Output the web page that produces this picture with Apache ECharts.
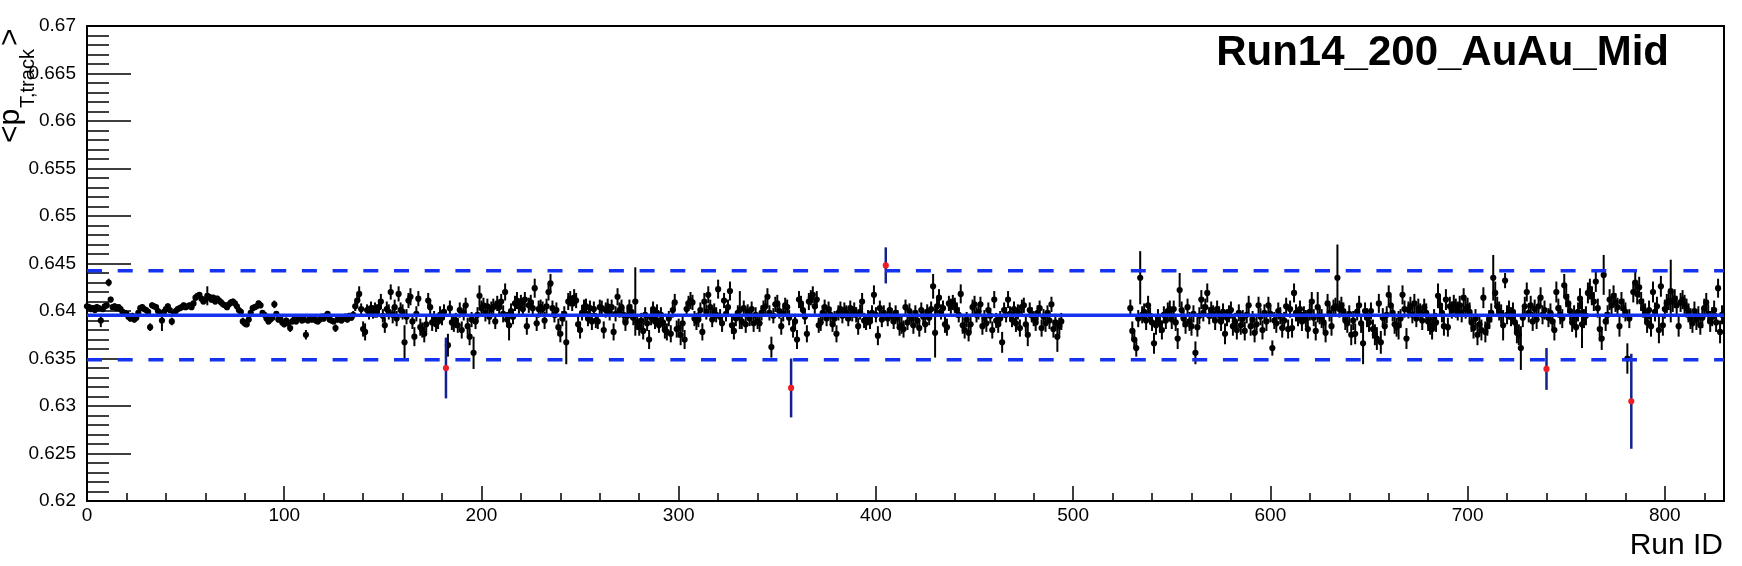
<!DOCTYPE html>
<html><head><meta charset="utf-8">
<script src="https://cdn.jsdelivr.net/npm/echarts@6/dist/echarts.min.js"></script>
<style>html,body{margin:0;padding:0;background:#fff}#chart{width:1742px;height:566px}</style>
</head><body><div id="chart"></div>
<script>
// Mean track pT per run; array index = Run ID. null = no run shown / drawn as outlier.
const runValues = [
0.6405,0.6404,0.6402,0.6403,0.6401,0.6404,0.6403,0.6390,0.6402,0.6405,
0.6406,0.6430,0.6412,0.6404,0.6405,0.6403,0.6404,0.6402,0.6399,0.6398,
0.6397,0.6394,0.6392,0.6395,0.6391,0.6393,0.6398,0.6403,0.6404,0.6402,
0.6401,0.6399,0.6383,0.6406,0.6405,0.6404,0.6400,0.6398,0.6390,0.6399,
0.6402,0.6405,0.6401,0.6389,0.6397,0.6400,0.6402,0.6403,0.6404,0.6406,
0.6404,0.6405,0.6406,0.6404,0.6408,0.6414,0.6416,0.6417,0.6413,0.6410,
0.6412,0.6416,0.6415,0.6412,0.6414,0.6410,0.6413,0.6411,0.6409,0.6407,
0.6406,0.6404,0.6407,0.6409,0.6410,0.6408,0.6405,0.6401,0.6399,0.6389,
0.6387,0.6386,0.6391,0.6398,0.6403,0.6404,0.6405,0.6408,0.6406,0.6398,
0.6396,0.6392,0.6389,0.6391,0.6393,0.6407,0.6397,0.6391,0.6392,0.6388,
0.6386,0.6390,0.6387,0.6382,0.6389,0.6391,0.6389,0.6392,0.6393,0.6390,
0.6391,0.6375,0.6390,0.6392,0.6391,0.6393,0.6390,0.6389,0.6391,0.6394,
0.6392,0.6395,0.6397,0.6391,0.6390,0.6389,0.6382,0.6391,0.6393,0.6390,
0.6392,0.6394,0.6391,0.6395,0.6393,0.6396,0.6405,0.6411,0.6418,0.6402,
0.6381,0.6378,0.6401,0.6398,0.6403,0.6399,0.6401,0.6400,0.6404,0.6410,
0.6395,0.6385,0.6402,0.6399,0.6420,0.6396,0.6404,0.6392,0.6418,0.6401,
0.6399,0.6367,0.6394,0.6411,0.6415,0.6389,0.6373,0.6397,0.6413,0.6383,
0.6380,0.6376,0.6386,0.6411,0.6404,0.6388,0.6392,0.6386,0.6389,0.6396,
0.6393,0.6399,null,0.6364,0.6403,0.6388,0.6387,0.6390,0.6385,0.6401,
0.6380,0.6398,0.6406,0.6384,0.6373,0.6391,0.6356,0.6389,0.6396,0.6416,
0.6403,0.6406,0.6398,0.6405,0.6394,0.6402,0.6404,0.6389,0.6408,0.6404,
0.6410,0.6397,0.6420,0.6391,0.6385,0.6400,0.6394,0.6408,0.6411,0.6405,
0.6409,0.6402,0.6412,0.6384,0.6406,0.6409,0.6403,0.6424,0.6387,0.6402,
0.6404,0.6402,0.6390,0.6405,0.6420,0.6429,0.6403,0.6396,0.6401,0.6383,
0.6376,0.6392,0.6397,0.6367,0.6410,0.6413,0.6408,0.6414,0.6411,0.6386,
0.6380,0.6398,0.6404,0.6405,0.6392,0.6403,0.6389,0.6402,0.6390,0.6389,
0.6404,0.6403,0.6380,0.6401,0.6405,0.6398,0.6404,0.6378,0.6397,0.6415,
0.6401,0.6404,0.6396,0.6388,0.6395,0.6404,0.6399,0.6393,0.6410,0.6388,
0.6383,0.6390,0.6379,0.6396,0.6387,0.6370,0.6393,0.6402,0.6389,0.6398,
0.6385,0.6396,0.6388,0.6380,0.6378,0.6392,0.6376,0.6401,0.6409,0.6381,
0.6382,0.6375,0.6387,0.6370,0.6402,0.6408,0.6411,0.6409,0.6392,0.6389,
0.6391,0.6401,0.6378,0.6410,0.6399,0.6417,0.6404,0.6391,0.6400,0.6396,
0.6423,0.6394,0.6387,0.6411,0.6397,0.6404,0.6421,0.6385,0.6379,0.6392,
0.6398,0.6401,0.6389,0.6403,0.6386,0.6399,0.6392,0.6402,0.6387,0.6396,
0.6389,0.6387,0.6398,0.6403,0.6405,0.6415,0.6398,0.6362,0.6395,0.6407,
0.6408,0.6400,0.6384,0.6397,0.6406,0.6404,0.6393,null,0.6381,0.6389,
0.6370,0.6412,0.6408,0.6401,0.6394,0.6376,0.6410,0.6414,0.6417,0.6405,
0.6412,0.6385,0.6388,0.6398,0.6404,0.6392,0.6402,0.6396,0.6386,0.6392,
0.6376,0.6398,0.6402,0.6395,0.6401,0.6398,0.6392,0.6403,0.6397,0.6401,
0.6396,0.6384,0.6399,0.6410,0.6390,0.6388,0.6393,0.6389,0.6398,0.6417,
0.6396,0.6374,0.6403,0.6391,0.6398,null,0.6392,0.6401,0.6395,0.6389,
0.6398,0.6393,0.6383,0.6385,0.6381,0.6404,0.6388,0.6400,0.6392,0.6385,
0.6398,0.6390,0.6382,0.6401,0.6394,0.6386,0.6399,0.6393,0.6402,0.6426,
0.6377,0.6405,0.6414,0.6399,0.6403,0.6386,0.6383,0.6408,0.6405,0.6409,
0.6406,0.6401,0.6396,0.6418,0.6385,0.6380,0.6391,0.6377,0.6386,0.6404,
0.6407,0.6396,0.6399,0.6407,0.6384,0.6393,0.6387,0.6401,0.6395,0.6380,
0.6412,0.6390,0.6386,0.6392,0.6367,0.6401,0.6396,0.6412,0.6397,0.6391,
0.6402,0.6387,0.6399,0.6382,0.6404,0.6406,0.6386,0.6375,0.6401,0.6396,
0.6392,0.6388,0.6398,0.6403,0.6382,0.6394,0.6387,0.6398,0.6390,0.6407,
0.6381,0.6388,0.6373,0.6384,0.6389,null,null,null,null,null,
null,null,null,null,null,null,null,null,null,null,
null,null,null,null,null,null,null,null,null,null,
null,null,null,null,null,null,null,null,null,0.6403,
0.6379,0.6370,0.6361,0.6392,0.6435,0.6396,0.6399,0.6390,0.6406,0.6395,
0.6388,0.6366,0.6385,0.6393,0.6387,0.6380,0.6396,0.6390,0.6400,0.6402,
0.6391,0.6402,0.6388,0.6371,0.6422,0.6401,0.6392,0.6386,0.6404,0.6389,
0.6384,0.6397,0.6356,0.6383,0.6395,0.6412,0.6398,0.6404,0.6419,0.6395,
0.6401,0.6397,0.6390,0.6402,0.6396,0.6389,0.6399,0.6376,0.6393,0.6397,
0.6401,0.6384,0.6389,0.6380,0.6398,0.6385,0.6392,0.6379,0.6396,0.6406,
0.6384,0.6391,0.6377,0.6386,0.6406,0.6394,0.6380,0.6398,0.6389,0.6406,
0.6397,0.6361,0.6390,0.6387,0.6400,0.6395,0.6382,0.6390,0.6405,0.6381,
0.6402,0.6382,0.6419,0.6398,0.6393,0.6402,0.6389,0.6396,0.6392,0.6381,
0.6399,0.6410,0.6393,0.6379,0.6404,0.6395,0.6392,0.6388,0.6377,0.6408,
0.6398,0.6384,0.6403,0.6405,0.6435,0.6402,0.6406,0.6400,0.6390,0.6387,
0.6397,0.6375,0.6390,0.6376,0.6399,0.6406,0.6387,0.6366,0.6400,0.6393,
0.6388,0.6400,0.6381,0.6375,0.6371,0.6408,0.6367,0.6393,0.6384,0.6396,
0.6417,0.6406,0.6398,0.6386,0.6383,0.6385,0.6392,0.6417,0.6402,0.6371,
0.6401,0.6405,0.6396,0.6408,0.6392,0.6403,0.6399,0.6390,0.6404,0.6398,
0.6389,0.6385,0.6381,0.6392,0.6388,0.6416,0.6406,0.6398,0.6384,0.6412,
0.6383,0.6405,0.6401,0.6407,0.6403,0.6400,0.6406,0.6398,0.6414,0.6402,
0.6404,0.6399,0.6388,0.6382,0.6392,0.6375,0.6386,0.6380,0.6414,0.6378,
0.6384,0.6391,0.6398,0.6435,0.6419,0.6405,0.6400,0.6397,0.6385,0.6432,
0.6396,0.6401,0.6394,0.6399,0.6388,0.6377,0.6375,0.6361,0.6393,0.6405,
0.6420,0.6398,0.6406,0.6389,0.6402,0.6391,0.6405,0.6414,0.6396,0.6401,
null,0.6393,0.6398,0.6389,0.6380,0.6420,0.6403,0.6396,0.6392,0.6427,
0.6415,0.6408,0.6400,0.6388,0.6395,0.6383,0.6399,0.6413,0.6386,0.6392,
0.6395,0.6419,0.6423,0.6416,0.6410,0.6431,0.6403,0.6381,0.6371,0.6438,
0.6389,0.6396,0.6412,0.6406,0.6416,0.6409,0.6404,0.6384,0.6410,0.6403,
0.6399,0.6350,0.6392,null,0.6420,0.6430,0.6418,0.6425,0.6410,0.6403,
0.6398,0.6388,0.6401,0.6384,0.6420,0.6399,0.6405,0.6380,0.6426,0.6385,
0.6402,0.6408,0.6411,0.6421,0.6410,0.6413,0.6406,0.6384,0.6409,0.6412,
0.6407,0.6403,0.6398,0.6392,0.6387,0.6400,0.6391,0.6395,0.6385,0.6393,
0.6403,0.6409,0.6397,0.6389,0.6394,0.6401,0.6388,0.6424,0.6378,0.6396
];
const runErrors = [
0.0003,0.0003,0.0003,0.0003,0.0003,0.0003,0.0003,0.0007,0.0003,0.0003,
0.0003,0.0004,0.0003,0.0003,0.0003,0.0003,0.0003,0.0003,0.0003,0.0003,
0.0003,0.0003,0.0003,0.0003,0.0003,0.0003,0.0003,0.0003,0.0003,0.0003,
0.0003,0.0003,0.0004,0.0003,0.0003,0.0003,0.0003,0.0003,0.0011,0.0003,
0.0003,0.0003,0.0003,0.0004,0.0003,0.0003,0.0003,0.0003,0.0003,0.0003,
0.0003,0.0003,0.0003,0.0003,0.0003,0.0003,0.0003,0.0003,0.0003,0.0003,
0.0003,0.0010,0.0003,0.0003,0.0003,0.0003,0.0003,0.0003,0.0003,0.0003,
0.0003,0.0003,0.0003,0.0003,0.0003,0.0003,0.0003,0.0003,0.0003,0.0004,
0.0004,0.0003,0.0003,0.0003,0.0003,0.0003,0.0003,0.0003,0.0003,0.0003,
0.0003,0.0003,0.0003,0.0003,0.0003,0.0004,0.0003,0.0003,0.0003,0.0003,
0.0003,0.0003,0.0003,0.0004,0.0003,0.0003,0.0003,0.0003,0.0003,0.0003,
0.0003,0.0005,0.0003,0.0003,0.0003,0.0003,0.0003,0.0003,0.0003,0.0003,
0.0003,0.0003,0.0003,0.0003,0.0003,0.0003,0.0004,0.0003,0.0003,0.0003,
0.0003,0.0003,0.0003,0.0003,0.0003,0.0004,0.0005,0.0006,0.0008,0.0006,
0.0008,0.0009,0.0006,0.0007,0.0007,0.0007,0.0008,0.0007,0.0008,0.0008,
0.0007,0.0008,0.0008,0.0008,0.0008,0.0009,0.0008,0.0008,0.0008,0.0008,
0.0008,0.0018,0.0008,0.0008,0.0009,0.0008,0.0010,0.0008,0.0008,0.0009,
0.0008,0.0009,0.0008,0.0008,0.0008,0.0009,0.0008,0.0008,0.0008,0.0009,
0.0008,0.0008,null,0.0012,0.0008,0.0008,0.0009,0.0008,0.0008,0.0008,
0.0009,0.0008,0.0008,0.0009,0.0009,0.0008,0.0017,0.0008,0.0008,0.0011,
0.0008,0.0008,0.0009,0.0008,0.0008,0.0008,0.0009,0.0008,0.0008,0.0008,
0.0008,0.0009,0.0009,0.0008,0.0016,0.0008,0.0008,0.0008,0.0009,0.0008,
0.0008,0.0008,0.0008,0.0009,0.0008,0.0008,0.0008,0.0010,0.0008,0.0009,
0.0008,0.0008,0.0009,0.0008,0.0009,0.0010,0.0008,0.0008,0.0008,0.0009,
0.0009,0.0008,0.0008,0.0023,0.0009,0.0008,0.0008,0.0009,0.0008,0.0008,
0.0009,0.0008,0.0008,0.0008,0.0008,0.0008,0.0009,0.0008,0.0008,0.0008,
0.0008,0.0008,0.0009,0.0008,0.0008,0.0008,0.0008,0.0009,0.0008,0.0009,
0.0008,0.0008,0.0008,0.0009,0.0008,0.0008,0.0008,0.0008,0.0036,0.0008,
0.0009,0.0008,0.0009,0.0008,0.0008,0.0010,0.0008,0.0008,0.0008,0.0009,
0.0008,0.0008,0.0009,0.0009,0.0009,0.0008,0.0009,0.0008,0.0009,0.0009,
0.0010,0.0011,0.0009,0.0010,0.0008,0.0008,0.0009,0.0008,0.0008,0.0009,
0.0008,0.0008,0.0009,0.0009,0.0008,0.0009,0.0008,0.0008,0.0008,0.0008,
0.0010,0.0008,0.0009,0.0008,0.0008,0.0008,0.0010,0.0009,0.0009,0.0008,
0.0008,0.0020,0.0008,0.0008,0.0009,0.0008,0.0008,0.0008,0.0009,0.0008,
0.0008,0.0009,0.0008,0.0008,0.0008,0.0009,0.0008,0.0011,0.0008,0.0008,
0.0009,0.0008,0.0009,0.0008,0.0008,0.0008,0.0008,null,0.0009,0.0008,
0.0010,0.0009,0.0008,0.0008,0.0008,0.0009,0.0009,0.0008,0.0009,0.0008,
0.0009,0.0008,0.0009,0.0008,0.0008,0.0008,0.0008,0.0008,0.0008,0.0008,
0.0009,0.0008,0.0008,0.0008,0.0008,0.0008,0.0008,0.0008,0.0008,0.0008,
0.0008,0.0009,0.0008,0.0009,0.0008,0.0008,0.0008,0.0008,0.0008,0.0010,
0.0008,0.0010,0.0008,0.0008,0.0008,null,0.0008,0.0008,0.0008,0.0008,
0.0008,0.0008,0.0009,0.0009,0.0009,0.0008,0.0008,0.0008,0.0008,0.0009,
0.0008,0.0008,0.0009,0.0008,0.0008,0.0009,0.0008,0.0008,0.0008,0.0013,
0.0026,0.0008,0.0009,0.0008,0.0008,0.0009,0.0009,0.0008,0.0008,0.0008,
0.0008,0.0008,0.0008,0.0010,0.0009,0.0009,0.0008,0.0009,0.0009,0.0008,
0.0009,0.0008,0.0008,0.0008,0.0009,0.0008,0.0009,0.0008,0.0008,0.0009,
0.0009,0.0008,0.0009,0.0008,0.0011,0.0008,0.0008,0.0009,0.0008,0.0008,
0.0008,0.0009,0.0008,0.0009,0.0008,0.0008,0.0009,0.0012,0.0008,0.0008,
0.0008,0.0009,0.0008,0.0008,0.0009,0.0008,0.0009,0.0008,0.0009,0.0008,
0.0009,0.0009,0.0016,0.0009,0.0009,null,null,null,null,null,
null,null,null,null,null,null,null,null,null,null,
null,null,null,null,null,null,null,null,null,null,
null,null,null,null,null,null,null,null,null,0.0009,
0.0010,0.0010,0.0009,0.0009,0.0028,0.0009,0.0009,0.0010,0.0010,0.0009,
0.0009,0.0011,0.0010,0.0009,0.0010,0.0010,0.0009,0.0009,0.0009,0.0009,
0.0010,0.0009,0.0009,0.0011,0.0018,0.0009,0.0009,0.0010,0.0009,0.0010,
0.0010,0.0009,0.0012,0.0010,0.0009,0.0010,0.0009,0.0009,0.0010,0.0009,
0.0009,0.0009,0.0010,0.0009,0.0009,0.0010,0.0009,0.0011,0.0009,0.0009,
0.0009,0.0010,0.0009,0.0010,0.0009,0.0010,0.0009,0.0010,0.0009,0.0010,
0.0010,0.0009,0.0010,0.0010,0.0009,0.0009,0.0010,0.0009,0.0010,0.0009,
0.0009,0.0008,0.0009,0.0010,0.0009,0.0009,0.0010,0.0009,0.0009,0.0010,
0.0009,0.0010,0.0010,0.0009,0.0009,0.0009,0.0010,0.0009,0.0009,0.0010,
0.0009,0.0010,0.0009,0.0010,0.0016,0.0009,0.0010,0.0009,0.0010,0.0010,
0.0009,0.0010,0.0009,0.0009,0.0035,0.0009,0.0009,0.0009,0.0010,0.0010,
0.0009,0.0011,0.0010,0.0011,0.0009,0.0010,0.0010,0.0022,0.0009,0.0010,
0.0010,0.0009,0.0010,0.0011,0.0012,0.0010,0.0012,0.0010,0.0010,0.0009,
0.0010,0.0010,0.0009,0.0010,0.0010,0.0015,0.0010,0.0010,0.0009,0.0011,
0.0009,0.0010,0.0009,0.0010,0.0009,0.0010,0.0009,0.0010,0.0009,0.0010,
0.0010,0.0010,0.0011,0.0010,0.0010,0.0013,0.0010,0.0010,0.0010,0.0011,
0.0010,0.0010,0.0009,0.0010,0.0010,0.0010,0.0010,0.0010,0.0010,0.0010,
0.0010,0.0010,0.0010,0.0011,0.0010,0.0011,0.0010,0.0011,0.0011,0.0011,
0.0010,0.0010,0.0010,0.0024,0.0012,0.0010,0.0010,0.0010,0.0016,0.0008,
0.0010,0.0010,0.0010,0.0010,0.0010,0.0011,0.0011,0.0023,0.0010,0.0010,
0.0010,0.0010,0.0010,0.0010,0.0010,0.0010,0.0010,0.0011,0.0010,0.0010,
null,0.0010,0.0010,0.0010,0.0011,0.0011,0.0010,0.0010,0.0010,0.0012,
0.0011,0.0010,0.0010,0.0010,0.0011,0.0011,0.0010,0.0011,0.0025,0.0010,
0.0010,0.0011,0.0011,0.0010,0.0010,0.0011,0.0010,0.0013,0.0012,0.0021,
0.0010,0.0010,0.0011,0.0010,0.0011,0.0010,0.0010,0.0011,0.0010,0.0010,
0.0010,0.0016,0.0010,null,0.0011,0.0012,0.0011,0.0011,0.0010,0.0010,
0.0010,0.0011,0.0010,0.0011,0.0011,0.0010,0.0010,0.0014,0.0011,0.0011,
0.0010,0.0010,0.0010,0.0033,0.0011,0.0010,0.0010,0.0011,0.0010,0.0010,
0.0010,0.0010,0.0010,0.0011,0.0010,0.0010,0.0011,0.0010,0.0010,0.0011,
0.0010,0.0010,0.0010,0.0011,0.0010,0.0010,0.0010,0.0010,0.0012,0.0010
];
// Runs flagged outside the band (red markers)
const outlierRuns = [182, 357, 405, 740, 783];
const outlierValues = [0.6340, 0.6319, 0.6448, 0.6339, 0.6305];
const outlierErrors = [0.0032, 0.0031, 0.0019, 0.0022, 0.0050];
// Mean and +-band lines
const meanValue = 0.63955;
const upperLimit = 0.64425;
const lowerLimit = 0.63488;
const xRange = [0, 830];
const yRange = [0.62, 0.67];
const titleText = 'Run14_200_AuAu_Mid';
const xAxisTitle = 'Run ID';
const yTitleMain = '<p';
const yTitleSub = 'T,track';
const yTitleEnd = '>';

const FONT = '"Liberation Sans", Arial, Helvetica, sans-serif';
const normalData = [];
runValues.forEach((v, i) => { if (v !== null) normalData.push([i, v, runErrors[i]]); });
const outlierData = outlierRuns.map((r, i) => [r, outlierValues[i], outlierErrors[i]]);

function errRenderer(barColor, dotColor, r, w) {
  return function (params, api) {
    const x = api.value(0), y = api.value(1), e = api.value(2);
    const t = api.coord([x, y + e]), b = api.coord([x, y - e]), c = api.coord([x, y]);
    return { type: 'group', children: [
      { type: 'line', shape: { x1: t[0], y1: t[1], x2: b[0], y2: b[1] }, style: { stroke: barColor, lineWidth: w } },
      { type: 'circle', shape: { cx: c[0], cy: c[1], r: r }, style: { fill: dotColor } }
    ] };
  };
}
function hLine(v, dashed) {
  return { type: 'line', xAxisIndex: 0, data: [[xRange[0], v], [xRange[1], v]], symbol: 'none', silent: true, z: 5,
    lineStyle: { color: '#1433f0', width: 3.5, type: dashed ? [15, 15.7] : 'solid' } };
}

const chart = echarts.init(document.getElementById('chart'), null, { renderer: 'canvas' });
chart.setOption({
  animation: false,
  backgroundColor: '#fff',
  grid: { left: 87, right: 18, top: 26, bottom: 65, show: true, borderColor: '#000', borderWidth: 2, backgroundColor: 'transparent' },
  xAxis: [{
    type: 'value', min: xRange[0], max: xRange[1], interval: 100,
    axisLine: { show: true, onZero: false, lineStyle: { color: '#000', width: 2 } },
    axisTick: { show: true, inside: true, length: 15, lineStyle: { color: '#000', width: 1.5 } },
    minorTick: { show: false },
    axisLabel: { show: true, showMaxLabel: false, color: '#000', fontSize: 19, fontFamily: FONT, margin: 5 },
    splitLine: { show: false }
  }, {
    type: 'value', min: xRange[0], max: xRange[1], interval: 20, position: 'bottom',
    axisLine: { show: false, onZero: false },
    axisTick: { show: true, inside: true, length: 8, lineStyle: { color: '#000', width: 1.5 } },
    axisLabel: { show: false }, splitLine: { show: false }
  }],
  yAxis: {
    type: 'value', min: yRange[0], max: yRange[1], interval: 0.005,
    axisLine: { show: true, onZero: false, lineStyle: { color: '#000', width: 2 } },
    axisTick: { show: true, inside: true, length: 44, lineStyle: { color: '#000', width: 1.5 } },
    minorTick: { show: true, splitNumber: 5, length: 22, lineStyle: { color: '#000', width: 1.5 } },
    axisLabel: { color: '#000', fontSize: 19, fontFamily: FONT, margin: 11 },
    splitLine: { show: false }
  },
  graphic: [
    { type: 'text', x: 1669, y: 53, z: 10, style: { text: titleText, textAlign: 'right', textVerticalAlign: 'middle', font: 'bold 42px ' + FONT, fill: '#000' } },
    { type: 'text', x: 1723, y: 546, z: 10, style: { text: xAxisTitle, textAlign: 'right', textVerticalAlign: 'middle', font: '30px ' + FONT, fill: '#000' } },
    { type: 'text', x: 11, y: 143, rotation: Math.PI / 2, z: 10, style: { text: yTitleMain, textAlign: 'left', textVerticalAlign: 'middle', font: '30px ' + FONT, fill: '#000' } },
    { type: 'text', x: 28, y: 108, rotation: Math.PI / 2, z: 10, style: { text: yTitleSub, textAlign: 'left', textVerticalAlign: 'middle', font: '20px ' + FONT, fill: '#000' } },
    { type: 'text', x: 11, y: 46, rotation: Math.PI / 2, z: 10, style: { text: yTitleEnd, textAlign: 'left', textVerticalAlign: 'middle', font: '30px ' + FONT, fill: '#000' } }
  ],
  series: [
    { type: 'custom', xAxisIndex: 0, data: normalData, renderItem: errRenderer('#000', '#000', 3.1, 2), z: 3, silent: true },
    { type: 'custom', xAxisIndex: 0, data: outlierData, renderItem: errRenderer('#13218f', '#ee1c24', 3.1, 2.5), z: 4, silent: true },
    hLine(meanValue, false),
    hLine(upperLimit, true),
    hLine(lowerLimit, true)
  ]
});
</script>
</body></html>
